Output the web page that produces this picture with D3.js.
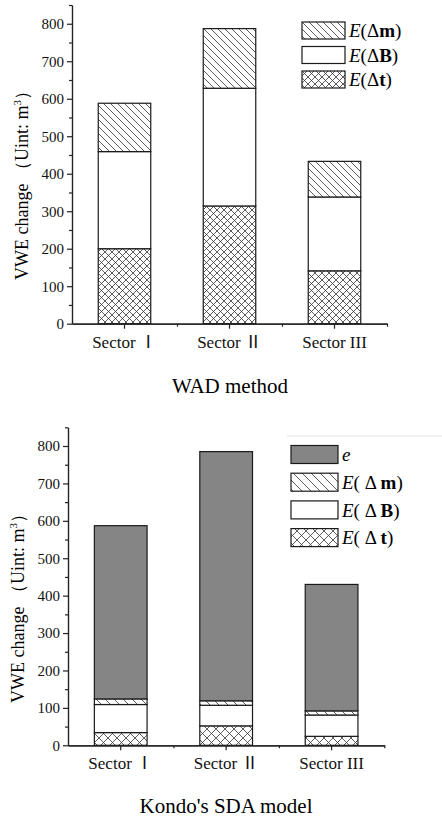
<!DOCTYPE html>
<html>
<head>
<meta charset="utf-8">
<script src="https://cdn.jsdelivr.net/npm/d3@7"></script>
<style>
  body { margin: 0; background: #fff; }
  svg { display: block; font-family: "Liberation Serif", "Times New Roman", serif; }
  .axis path, .axis line { stroke: #222; stroke-width: 1.2; }
  .axis text { font-size: 15px; fill: #111; font-family: "Liberation Serif", serif; }
</style>
</head>
<body>
<script>
// categories and values
const categories = ["Sector \u2160", "Sector \u2161", "Sector III"];

// WAD method
const wadDt = [200, 314, 141];
const wadDB = [259, 314, 197];
const wadDm = [129, 159, 95];

// Kondo's SDA model
const sdaDt = [34, 52, 24];
const sdaDB = [75, 55, 57];
const sdaDm = [15, 12, 11];
const sdaE  = [463, 666, 338];

const yTicks = [0, 100, 200, 300, 400, 500, 600, 700, 800];
const yMinor = [50, 150, 250, 350, 450, 550, 650, 750, 850];

const W = 442, H = 822;
const svg = d3.select("body").append("svg").attr("width", W).attr("height", H);

const defs = svg.append("defs");
function hatch(id, s, cross) {
  const p = defs.append("pattern").attr("id", id)
    .attr("patternUnits", "userSpaceOnUse").attr("width", s).attr("height", s);
  p.append("rect").attr("width", s).attr("height", s).attr("fill", "#fff");
  const g = p.append("g").attr("stroke", "#333").attr("stroke-width", 0.8);
  g.append("line").attr("x1", -1).attr("y1", -1).attr("x2", s + 1).attr("y2", s + 1);
  if (cross) {
    g.append("line").attr("x1", -1).attr("y1", s + 1).attr("x2", s + 1).attr("y2", -1);
  }
}
hatch("diagA", 7, false);
hatch("crossA", 7, true);
hatch("diagB", 9, false);
hatch("crossB", 9, true);

function drawChart(opt) {
  const x = d3.scaleBand().domain(categories).range([opt.x0, opt.x1])
    .paddingInner(0.5).paddingOuter(0.25);
  const y = d3.scaleLinear().domain([0, 850]).range([opt.y0, opt.y1]);

  const rows = categories.map((c, i) => {
    const r = { cat: c };
    opt.series.forEach(s => r[s.key] = s.values[i]);
    return r;
  });
  const stack = d3.stack().keys(opt.series.map(s => s.key))(rows);

  const g = svg.append("g");
  stack.forEach((layer, li) => {
    g.selectAll(null).data(layer).enter().append("rect")
      .attr("x", d => x(d.data.cat))
      .attr("y", d => y(d[1]))
      .attr("width", x.bandwidth())
      .attr("height", d => y(d[0]) - y(d[1]))
      .attr("fill", opt.series[li].fill)
      .attr("stroke", "#1a1a1a")
      .attr("stroke-width", 1.2);
  });

  // y axis
  svg.append("g").attr("class", "axis")
    .attr("transform", `translate(${opt.x0},0)`)
    .call(d3.axisLeft(y).tickValues(yMinor).tickFormat("").tickSize(3).tickSizeOuter(0));
  svg.append("g").attr("class", "axis")
    .attr("transform", `translate(${opt.x0},0)`)
    .call(d3.axisLeft(y).tickValues(yTicks).tickSize(5).tickPadding(3).tickSizeOuter(0));

  // x axis
  const xm = d3.scaleLinear().domain([0, 3]).range([opt.x0, opt.x1]);
  svg.append("g").attr("class", "axis")
    .attr("transform", `translate(0,${opt.y0})`)
    .call(d3.axisBottom(xm).tickValues([1, 2, 3]).tickFormat("").tickSize(3).tickSizeOuter(0));
  const xa = svg.append("g").attr("class", "axis")
    .attr("transform", `translate(0,${opt.y0})`)
    .call(d3.axisBottom(x).tickSize(5).tickPadding(7).tickSizeOuter(0));
  // roman numerals from a full-width font, as in the original
  xa.selectAll("text").style("font-size", "17px")
    .html(d => d.replace(/([\u2160-\u217F])/g,
      '<tspan style="font-family:\'Noto Sans CJK SC\'">$1</tspan>'));

  // y label
  svg.append("text")
    .attr("transform", `translate(${opt.labX},${opt.labY}) rotate(-90)`)
    .attr("text-anchor", "middle")
    .style("font-size", "18px")
    .html('VWE change \uFF08Uint: m<tspan dy="-7" font-size="11">3</tspan><tspan dy="7">\uFF09</tspan>');

  // title
  svg.append("text")
    .attr("x", opt.titleX).attr("y", opt.titleY)
    .attr("text-anchor", "middle")
    .style("font-size", "21px")
    .text(opt.title);

  // legend
  const lg = svg.append("g");
  opt.legend.forEach((l, i) => {
    const yy = opt.legY + i * opt.legStep;
    lg.append("rect").attr("x", opt.legX).attr("y", yy)
      .attr("width", opt.legW).attr("height", opt.legH)
      .attr("fill", l.fill).attr("stroke", "#1a1a1a").attr("stroke-width", 1.2);
    lg.append("text").attr("x", opt.legX + opt.legW + 4).attr("y", yy + opt.legH / 2)
      .attr("dy", "0.35em")
      .style("font-size", "19px")
      .html(l.label);
  });
}

drawChart({
  x0: 72, x1: 387, y0: 323.7, y1: 5,
  series: [
    { key: "dt", values: wadDt, fill: "url(#crossA)" },
    { key: "dB", values: wadDB, fill: "#fff" },
    { key: "dm", values: wadDm, fill: "url(#diagA)" }
  ],
  labX: 28, labY: 181,
  title: "WAD method", titleX: 230, titleY: 393,
  legX: 302, legY: 22, legW: 43, legH: 17, legStep: 24.5,
  legend: [
    { fill: "url(#diagA)", label: '<tspan font-style="italic">E</tspan>(\u0394<tspan font-weight="bold">m</tspan>)' },
    { fill: "#fff", label: '<tspan font-style="italic">E</tspan>(\u0394<tspan font-weight="bold">B</tspan>)' },
    { fill: "url(#crossA)", label: '<tspan font-style="italic">E</tspan>(\u0394<tspan font-weight="bold">t</tspan>)' }
  ]
});

// faint frame line above the lower legend
svg.append("line").attr("x1", 287).attr("x2", 442).attr("y1", 436).attr("y2", 436)
  .attr("stroke", "#e2e2e2").attr("stroke-width", 1);

drawChart({
  x0: 68, x1: 384.3, y0: 745.3, y1: 427.3,
  series: [
    { key: "dt", values: sdaDt, fill: "url(#crossB)" },
    { key: "dB", values: sdaDB, fill: "#fff" },
    { key: "dm", values: sdaDm, fill: "url(#diagB)" },
    { key: "e", values: sdaE, fill: "#858585" }
  ],
  labX: 24, labY: 604,
  title: "Kondo's SDA model", titleX: 226, titleY: 813,
  legX: 291, legY: 445.5, legW: 47, legH: 18, legStep: 27.7,
  legend: [
    { fill: "#858585", label: '<tspan font-style="italic">e</tspan>' },
    { fill: "url(#diagB)", label: '<tspan font-style="italic">E</tspan>( \u0394 <tspan font-weight="bold">m</tspan>)' },
    { fill: "#fff", label: '<tspan font-style="italic">E</tspan>( \u0394 <tspan font-weight="bold">B</tspan>)' },
    { fill: "url(#crossB)", label: '<tspan font-style="italic">E</tspan>( \u0394 <tspan font-weight="bold">t</tspan>)' }
  ]
});
</script>
</body>
</html>
